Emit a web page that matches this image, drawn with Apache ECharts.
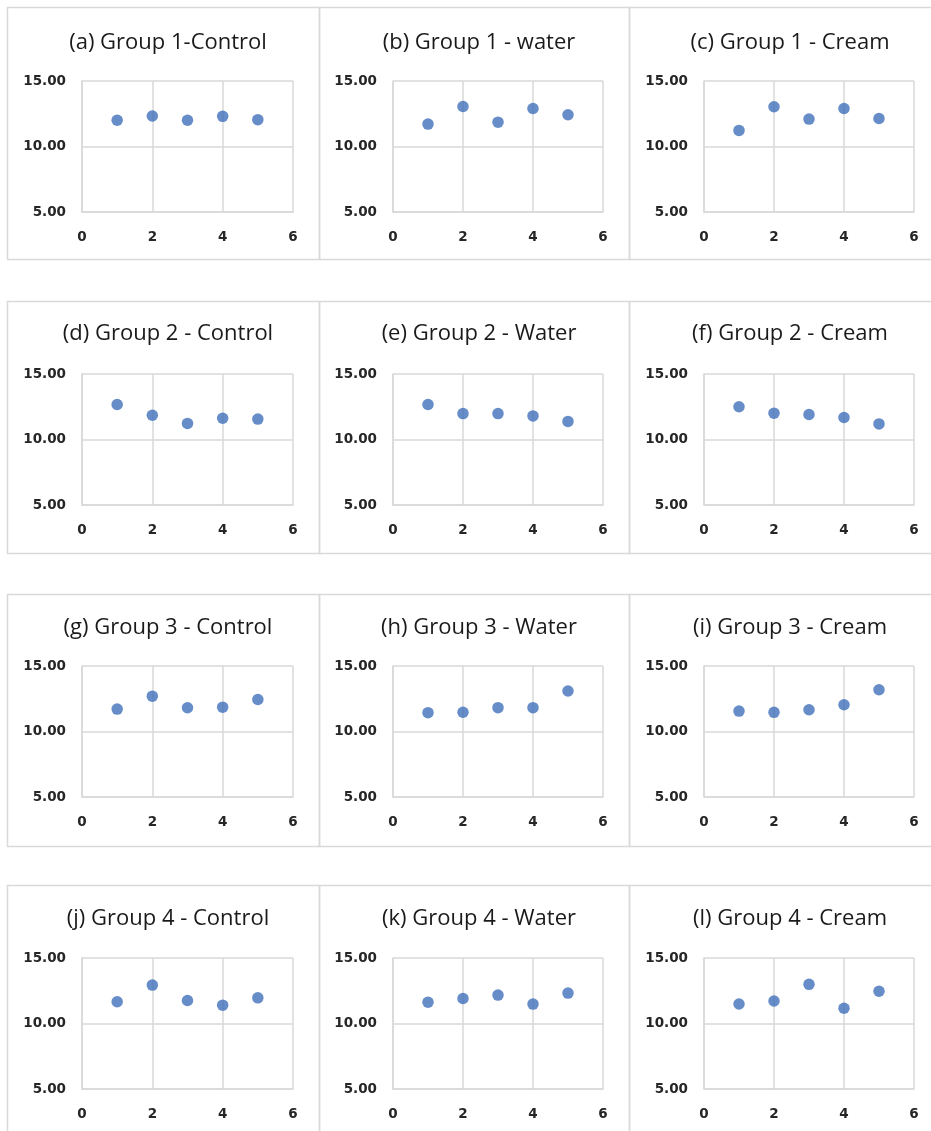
<!DOCTYPE html>
<html>
<head>
<meta charset="utf-8">
<script src="https://cdn.jsdelivr.net/npm/echarts@6/dist/echarts.min.js"></script>
<style>
html,body{margin:0;padding:0;background:#fff;}
#chart{width:931px;height:1131px;}
</style>
</head>
<body>
<div id="chart"></div>
<script>
// ---- data ----
const xValues = [1, 2, 3, 4, 5];
const xTicks = [0, 2, 4, 6];
const yTicks = ["5.00", "10.00", "15.00"];
const panelTitles = [
  "(a) Group 1-Control", "(b) Group 1 - water", "(c) Group 1 - Cream",
  "(d) Group 2 - Control", "(e) Group 2 - Water", "(f) Group 2 - Cream",
  "(g) Group 3 - Control", "(h) Group 3 - Water", "(i) Group 3 - Cream",
  "(j) Group 4 - Control", "(k) Group 4 - Water", "(l) Group 4 - Cream"
];
const g1Control = [12.00, 12.33, 12.00, 12.30, 12.05];
const g1Water   = [11.71, 13.05, 11.86, 12.90, 12.42];
const g1Cream   = [11.23, 13.03, 12.09, 12.90, 12.14];
const g2Control = [12.67, 11.85, 11.23, 11.62, 11.56];
const g2Water   = [12.67, 11.98, 11.98, 11.80, 11.38];
const g2Cream   = [12.50, 12.01, 11.91, 11.68, 11.19];
const g3Control = [11.71, 12.70, 11.81, 11.86, 12.44];
const g3Water   = [11.44, 11.47, 11.82, 11.82, 13.09];
const g3Cream   = [11.56, 11.46, 11.66, 12.04, 13.19];
const g4Control = [11.66, 12.93, 11.76, 11.40, 11.96];
const g4Water   = [11.63, 11.91, 12.17, 11.48, 12.32];
const g4Cream   = [11.49, 11.72, 12.99, 11.16, 12.46];
const panelValues = [g1Control, g1Water, g1Cream, g2Control, g2Water, g2Cream,
                     g3Control, g3Water, g3Cream, g4Control, g4Water, g4Cream];

// ---- layout ----
const panelLeft = [7, 319, 629];
const panelRight = [319, 629, 960];
const panelTop = [7, 301, 594, 885];
const panelH = 252;
const plotLeft = [82, 393, 704];
const plotW = [211, 210, 210];
const plotTop = [81, 374, 666, 958];
const plotH = 131;
const titleCy = [42, 333, 627, 918];

const gridColor = '#d9d9d9';
const labelStyle = {fontFamily: 'DejaVu Sans', fontWeight: 'bold', fontSize: 13.5, color: '#262626'};

const grids = [], xAxes = [], yAxes = [], series = [], titles = [], graphics = [];
for (let i = 0; i < 12; i++) {
  const r = Math.floor(i / 3), c = i % 3;
  graphics.push({
    type: 'rect', silent: true, z: -10,
    shape: {x: panelLeft[c] + 0.5, y: panelTop[r] + 0.5, width: panelRight[c] - panelLeft[c], height: panelH},
    style: {fill: null, stroke: '#d9d9d9', lineWidth: 1.5}
  });
  grids.push({left: plotLeft[c], top: plotTop[r], width: plotW[c], height: plotH, containLabel: false});
  xAxes.push({
    type: 'value', gridIndex: i, min: 0, max: 6, interval: 2,
    axisLine: {show: true, lineStyle: {color: gridColor, width: 1.5}},
    axisTick: {show: false},
    splitLine: {show: true, lineStyle: {color: gridColor, width: 1.5}},
    axisLabel: Object.assign({margin: 18, formatter: v => String(xTicks[xTicks.indexOf(v)])}, labelStyle)
  });
  yAxes.push({
    type: 'value', gridIndex: i, min: 5, max: 15, interval: 5,
    axisLine: {show: true, lineStyle: {color: gridColor, width: 1.5}},
    axisTick: {show: false},
    splitLine: {show: true, lineStyle: {color: gridColor, width: 1.5}},
    axisLabel: Object.assign({margin: 16, formatter: v => yTicks[(v - 5) / 5]}, labelStyle)
  });
  series.push({
    type: 'scatter', xAxisIndex: i, yAxisIndex: i,
    symbol: 'circle', symbolSize: 11.5,
    itemStyle: {color: '#4170BC'},
    data: xValues.map((x, k) => [x, panelValues[i][k]])
  });
  titles.push({
    text: panelTitles[i],
    left: (panelLeft[c] + Math.min(panelRight[c], panelLeft[c] + 312)) / 2,
    top: titleCy[r] - 15,
    textAlign: 'center',
    textStyle: {fontFamily: 'Open Sans', fontWeight: 'normal', fontSize: 22, color: '#1a1a1a'}
  });
}

const chart = echarts.init(document.getElementById('chart'), null, {renderer: 'canvas'});
chart.setOption({
  backgroundColor: '#ffffff',
  animation: false,
  title: titles,
  grid: grids,
  xAxis: xAxes,
  yAxis: yAxes,
  series: series,
  graphic: graphics
});
</script>
</body>
</html>
